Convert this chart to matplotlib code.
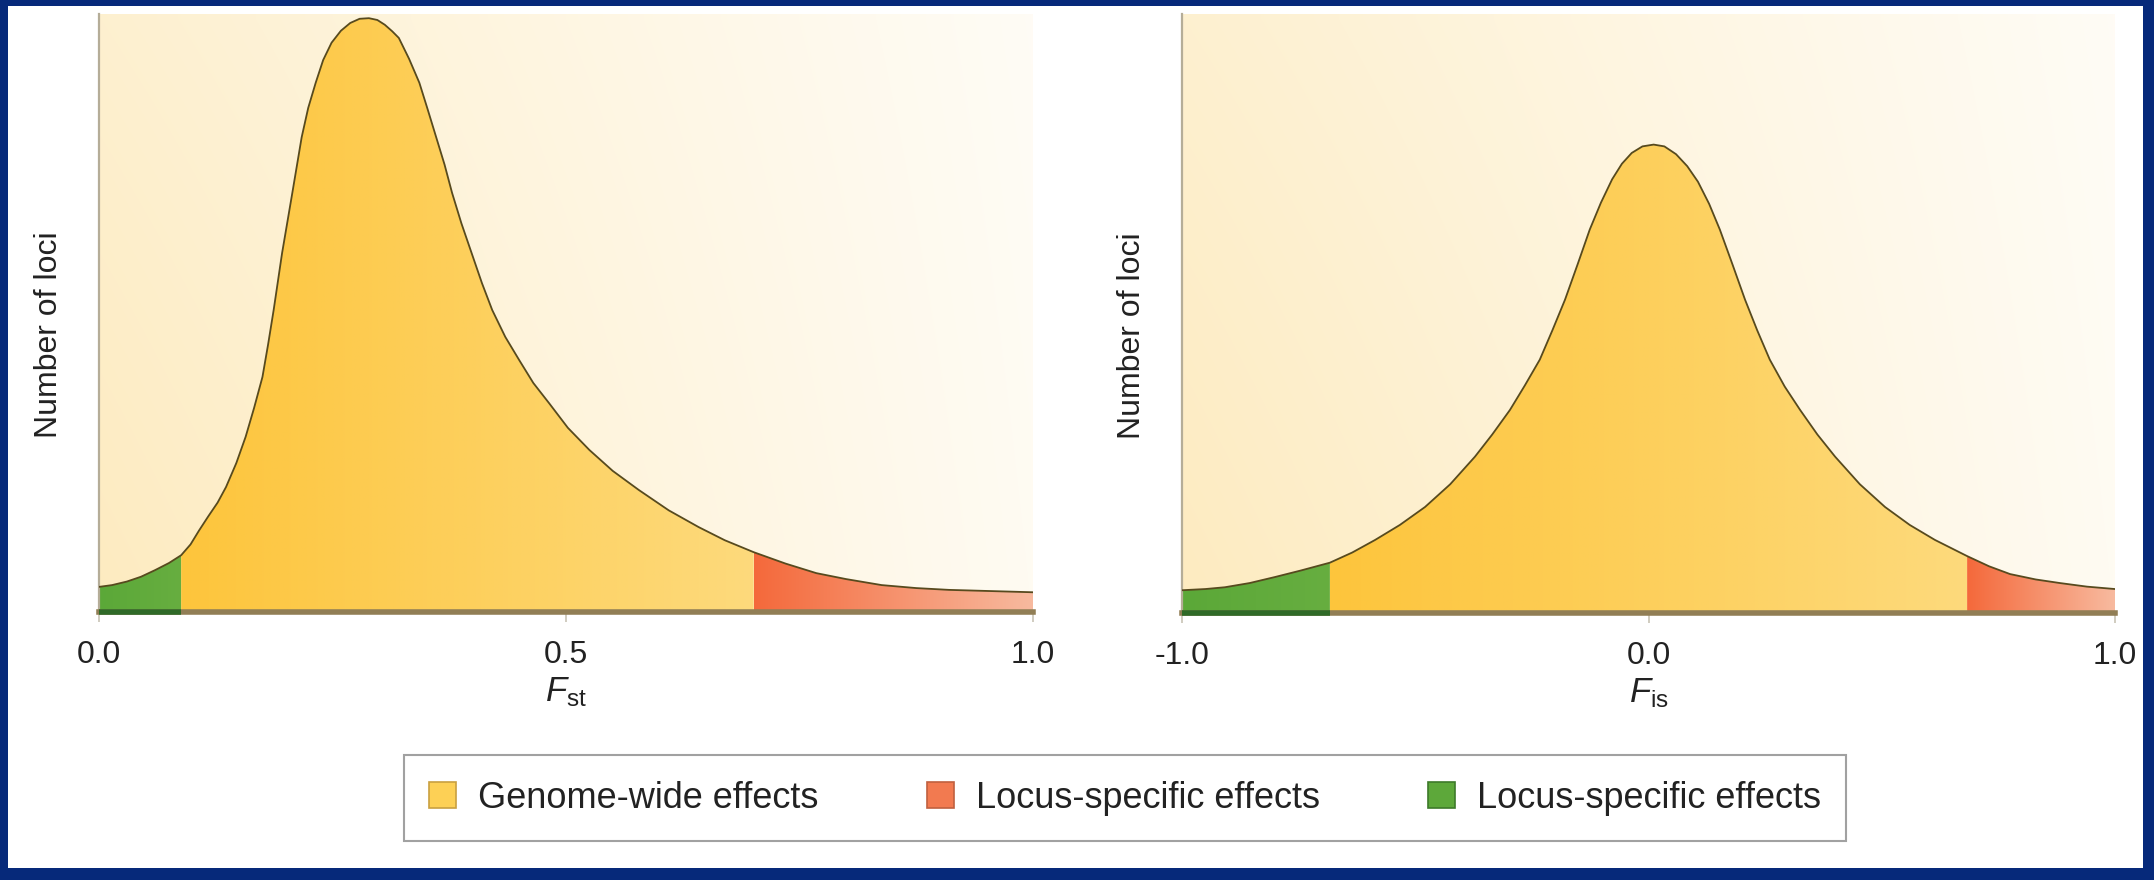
"""
Fst / Fis 分布示意图 (genome-wide vs locus-specific effects)
"""
import numpy as np
import matplotlib
matplotlib.use('Agg')
import matplotlib.pyplot as plt
from matplotlib.patches import Patch, Rectangle
from matplotlib.colors import to_rgb

# Fst 曲线 (从图上读取, y 为 0-100 的相对高度)
fstX = [0.000, 0.014, 0.030, 0.045, 0.060, 0.075, 0.088, 0.098, 0.107, 0.117,
        0.127, 0.136, 0.147, 0.157, 0.166, 0.175, 0.181, 0.187, 0.196, 0.207,
        0.217, 0.224, 0.232, 0.240, 0.249, 0.259, 0.269, 0.279, 0.289, 0.298,
        0.306, 0.314, 0.321, 0.332, 0.343, 0.352, 0.361, 0.370, 0.378, 0.388,
        0.399, 0.410, 0.421, 0.435, 0.450, 0.465, 0.482, 0.502, 0.525, 0.550,
        0.578, 0.610, 0.642, 0.670, 0.701, 0.735, 0.768, 0.800, 0.838, 0.875,
        0.910, 0.955, 1.000]
fstY = [4.2, 4.5, 5.1, 5.9, 7.0, 8.2, 9.5, 11.3, 13.6, 16.0,
        18.3, 20.9, 24.9, 29.3, 34.1, 39.3, 44.7, 50.5, 60.0, 70.1,
        79.4, 84.3, 88.5, 92.3, 95.2, 97.2, 98.5, 99.2, 99.3, 99.0,
        98.2, 97.1, 96.0, 92.5, 88.5, 84.0, 79.4, 74.8, 70.1, 65.0,
        60.0, 55.0, 50.5, 46.0, 42.1, 38.3, 34.9, 30.8, 27.1, 23.6,
        20.4, 17.0, 14.2, 12.0, 10.0, 8.1, 6.5, 5.5, 4.5, 4.0,
        3.7, 3.5, 3.3]
fstCuts = (0.088, 0.701)
fstTicks = [0.0, 0.5, 1.0]
fstTickLabels = ['0.0', '0.5', '1.0']

# Fis 曲线
fisX = [-1.000, -0.950, -0.908, -0.855, -0.801, -0.745, -0.683, -0.635, -0.586, -0.533,
        -0.479, -0.425, -0.372, -0.335, -0.297, -0.265, -0.233, -0.206, -0.179, -0.152,
        -0.126, -0.102, -0.078, -0.057, -0.036, -0.013, 0.011, 0.034, 0.059, 0.083,
        0.106, 0.130, 0.153, 0.180, 0.207, 0.233, 0.260, 0.292, 0.325, 0.362,
        0.400, 0.453, 0.507, 0.560, 0.614, 0.683, 0.730, 0.775, 0.830, 0.882,
        0.940, 1.000]
fisY = [3.8, 4.0, 4.3, 5.0, 6.0, 7.1, 8.4, 10.1, 12.2, 14.7,
        17.7, 21.5, 26.1, 29.8, 33.9, 38.0, 42.3, 47.2, 52.3, 58.2,
        64.0, 68.5, 72.4, 75.0, 76.8, 77.9, 78.2, 77.9, 76.6, 74.6,
        72.0, 68.3, 64.0, 58.2, 52.3, 47.2, 42.3, 37.8, 33.9, 29.8,
        26.1, 21.5, 17.7, 14.7, 12.2, 9.5, 7.8, 6.5, 5.6, 5.0,
        4.4, 4.0]
fisCuts = (-0.683, 0.683)
fisTicks = [-1.0, 0.0, 1.0]
fisTickLabels = ['-1.0', '0.0', '1.0']

legendLabels = ['Genome-wide effects', 'Locus-specific effects', 'Locus-specific effects']

navy = '#06297a'
txtColor = '#222222'

plt.rcParams['font.family'] = ['Liberation Sans', 'DejaVu Sans']
plt.rcParams['mathtext.fontset'] = 'custom'
plt.rcParams['mathtext.rm'] = 'Liberation Sans'
plt.rcParams['mathtext.it'] = 'Liberation Sans:italic'


def grad(c0, c1, fade=0.0):
    """ 水平渐变, 顶部略微变白 """
    a = np.array(to_rgb(c0))
    b = np.array(to_rgb(c1))
    t = np.linspace(0, 1, 256)[None, :, None]
    row = a + (b - a) * t
    v = np.linspace(fade, 0, 64)[:, None, None]
    return np.clip(row + (1 - row) * v, 0, 1)


def draw_panel(ax, xs, ys, cuts, ticks, tickLabels, xlabel):
    xs = np.asarray(xs)
    ys = np.asarray(ys)
    x0, x1 = xs[0], xs[-1]
    gCut, rCut = cuts
    # 背景
    ax.imshow(grad('#FDEBC0', '#FFFBF2', fade=0.25), extent=[x0, x1, 0, 100],
              aspect='auto', zorder=0, interpolation='bilinear')
    # 分区填充
    regions = [(x0, gCut, '#5BA838', '#67AE40'),
               (gCut, rCut, '#FDC53C', '#FDDA7C'),
               (rCut, x1, '#F4693B', '#F8BA9F')]
    for lo, hi, c0, c1 in regions:
        m = (xs >= lo) & (xs <= hi)
        poly = ax.fill_between(xs[m], ys[m], 0, facecolor='none', edgecolor='none')
        im = ax.imshow(grad(c0, c1), extent=[xs[m][0], xs[m][-1], 0, 100],
                       aspect='auto', zorder=1, interpolation='bilinear')
        im.set_clip_path(poly.get_paths()[0], transform=ax.transData)
    ax.plot(xs, ys, color='#574a1e', lw=1.3, zorder=3,
            solid_joinstyle='round', solid_capstyle='round')
    # 坐标轴
    ax.set_xlim(x0, x1)
    ax.set_ylim(0, 100)
    for s in ('top', 'right'):
        ax.spines[s].set_visible(False)
    ax.spines['left'].set_color('#b5ad98')
    ax.spines['left'].set_linewidth(1.6)
    ax.spines['bottom'].set_color('#917e55')
    ax.spines['bottom'].set_linewidth(4)
    ax.hlines(0, x0, gCut, color='#2f6a28', lw=4, zorder=4, clip_on=False)
    ax.set_yticks([])
    ax.set_xticks(ticks, tickLabels)
    ax.tick_params(axis='x', length=7, width=1.2, color='#c8c3b5', pad=13,
                   labelsize=23, labelcolor=txtColor)
    ax.set_ylabel('Number of loci', fontsize=23, color=txtColor)
    ax.yaxis.set_label_coords(-0.037, 0.463)
    ax.set_xlabel(xlabel, fontsize=25, color=txtColor)
    ax.xaxis.set_label_coords(0.5, -0.106)


fig = plt.figure(figsize=(21.54, 8.8), dpi=100, facecolor=navy)
fig.patches.append(Rectangle((8 / 2154, 12 / 880), (2154 - 8 - 11) / 2154, (880 - 6 - 12) / 880,
                             transform=fig.transFigure, facecolor='white', edgecolor='none', zorder=-1))

axL = fig.add_axes([99 / 2154, 268 / 880, 934 / 2154, 598 / 880])
axR = fig.add_axes([1182 / 2154, 267 / 880, 933 / 2154, 599 / 880])
draw_panel(axL, fstX, fstY, fstCuts, fstTicks, fstTickLabels, r'$F_{\mathrm{st}}$')
draw_panel(axR, fisX, fisY, fisCuts, fisTicks, fisTickLabels, r'$F_{\mathrm{is}}$')

handles = [Patch(facecolor='#FDD055', edgecolor='#c9a040', lw=1.2),
           Patch(facecolor='#F27A50', edgecolor='#c0603f', lw=1.2),
           Patch(facecolor='#5DA83A', edgecolor='#3d7a2a', lw=1.2)]
leg = fig.legend(handles, legendLabels, loc='center', bbox_to_anchor=(0.5223, 0.093),
                 ncol=3, fontsize=26, frameon=True, fancybox=False,
                 handlelength=0.75, handleheight=0.75, handletextpad=0.6,
                 columnspacing=3.0, borderpad=0.7)
leg.get_frame().set_edgecolor('#8a8a8a')
leg.get_frame().set_linewidth(1.5)
for t in leg.get_texts():
    t.set_color(txtColor)

fig.savefig('out.png', dpi=100, facecolor=fig.get_facecolor())
